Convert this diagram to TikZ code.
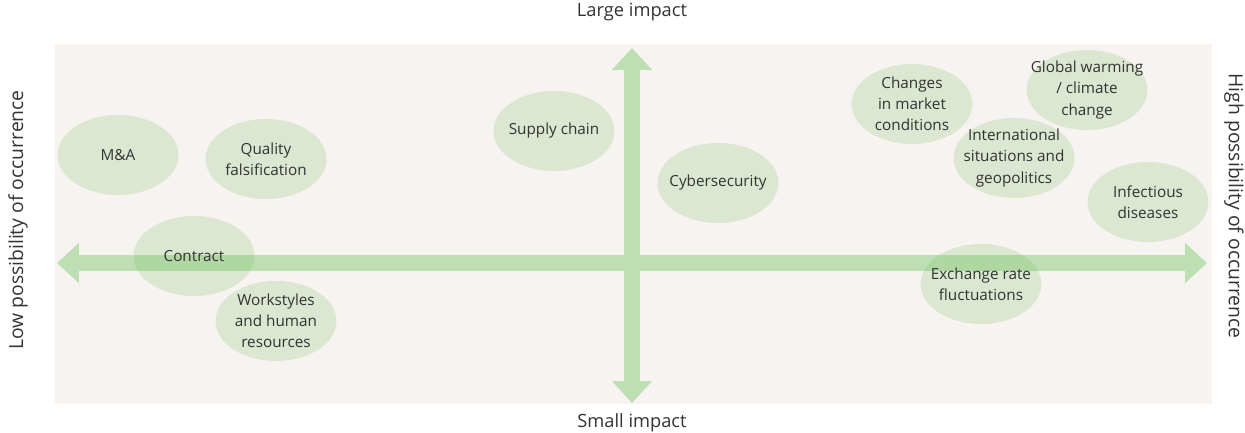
\documentclass[tikz,border=0pt]{standalone}
\usepackage{fontspec}
\setmainfont{Open Sans}
\usepackage{tikz}
\usetikzlibrary{shapes.geometric, arrows.meta, positioning}
\definecolor{mapbg}{RGB}{247,243,240}
\definecolor{axisgreen}{RGB}{190,223,180}
\definecolor{riskgreen}{RGB}{120,190,100}
\definecolor{txtgray}{RGB}{51,51,51}

\begin{document}
\begin{tikzpicture}[x=0.02cm, y=-0.02cm,
    risk/.style={ellipse, fill=riskgreen, fill opacity=0.22, text opacity=1,
                 minimum width=2.42cm, minimum height=1.6cm,
                 inner xsep=-10pt, inner ysep=-4pt,
                 align=center, text=txtgray, font=\fontsize{8.7}{12}\selectfont},
    axis/.style={line width=0.33cm, draw=axisgreen,
                 {Triangle[width=0.78cm, length=0.44cm]}-{Triangle[width=0.78cm, length=0.44cm]}},
    axlbl/.style={text=txtgray, font=\fontsize{10.4}{12}\selectfont},
    sidelbl/.style={text=txtgray, font=\fontsize{11}{12}\selectfont}]

\useasboundingbox (0,0) rectangle (1245,433);

%% ── Background ───────────────────────────────────────────────────────────────
\fill[mapbg] (55,44) rectangle (1212,404);

%% ── Axes ─────────────────────────────────────────────────────────────────────
\coordinate (top) at (632,48);
\coordinate (bottom) at (632,403);
\coordinate (left) at (57,263);
\coordinate (right) at (1207,263);

\draw[axis] (bottom) -- (top);
\draw[axis] (left) -- (right);

\node[axlbl] (large) at (632,12) {Large impact};
\node[axlbl] (small) at (632,423) {Small impact};
\node[sidelbl, rotate=90] (low) at (18,220) {Low possibility of occurrence};
\node[sidelbl, rotate=-90] (high) at (1234,206) {High possibility of occurrence};

%% ── Risks ────────────────────────────────────────────────────────────────────
%% Low possibility side
\node[risk] (ma) at (118,155) {M\&A};
\node[risk] (quality) at (266,159) {Quality\\falsification};
\node[risk] (contract) at (194,256) {Contract};
\node[risk] (work) at (276,321) {Workstyles\\and human\\resources};

%% Middle
\node[risk] (supply) at (554,131) {Supply chain};
\node[risk] (cyber) at (718,183) {Cybersecurity};

%% High possibility side
\node[risk] (market) at (912,104) {Changes\\in market\\conditions};
\node[risk] (climate) at (1087,90) {Global warming\\/ climate\\change};
\node[risk] (geo) at (1014,158) {International\\situations and\\geopolitics};
\node[risk] (infect) at (1148,202) {Infectious\\diseases};
\node[risk] (fx) at (981,284) {Exchange rate\\fluctuations};

\end{tikzpicture}
\end{document}
